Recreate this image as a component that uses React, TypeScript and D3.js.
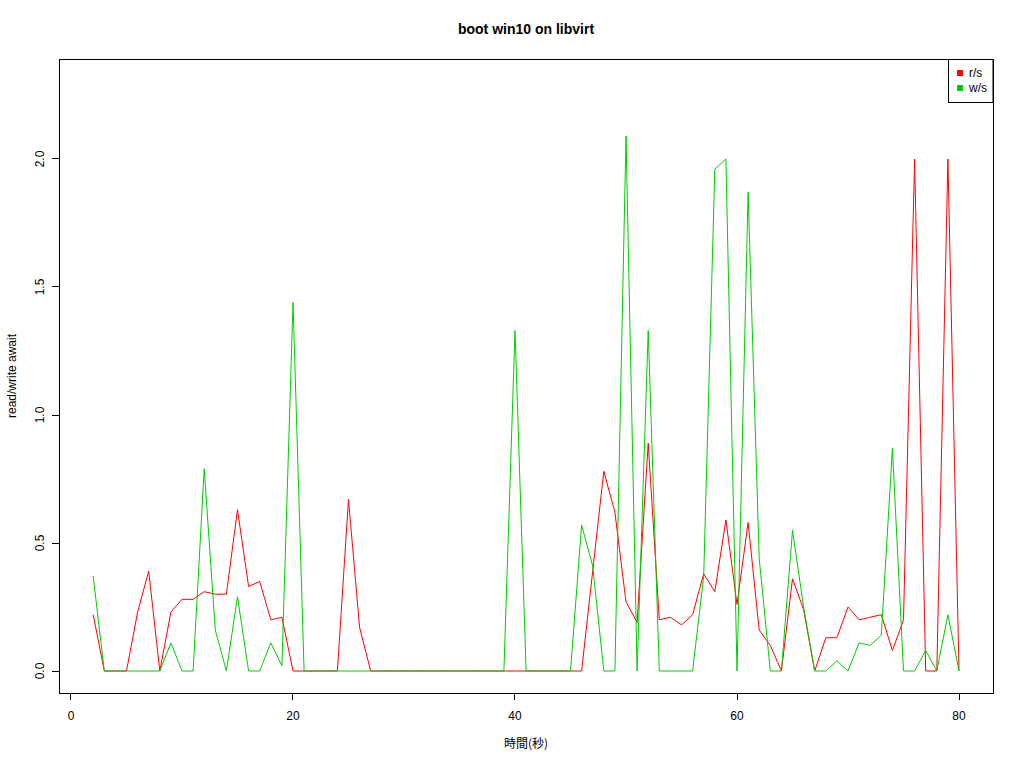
import React from 'react';
import * as d3 from 'd3';

// seconds since boot
const seconds = [
  2, 3, 4, 5, 6, 7, 8, 9, 10, 11, 12, 13, 14, 15, 16, 17, 18, 19, 20, 21,
  22, 23, 24, 25, 26, 27, 28, 29, 30, 31, 32, 33, 34, 35, 36, 37, 38, 39, 40, 41,
  42, 43, 44, 45, 46, 47, 48, 49, 50, 51, 52, 53, 54, 55, 56, 57, 58, 59, 60, 61,
  62, 63, 64, 65, 66, 67, 68, 69, 70, 71, 72, 73, 74, 75, 76, 77, 78, 79, 80,
];

// r/s await
const readAwait = [
  0.22, 0, 0, 0, 0.23, 0.39, 0, 0.23, 0.28, 0.28, 0.31, 0.3, 0.3, 0.63, 0.33, 0.35, 0.2, 0.21, 0, 0,
  0, 0, 0, 0.67, 0.17, 0, 0, 0, 0, 0, 0, 0, 0, 0, 0, 0, 0, 0, 0, 0,
  0, 0, 0, 0, 0, 0.39, 0.78, 0.62, 0.27, 0.19, 0.89, 0.2, 0.21, 0.18, 0.22, 0.38, 0.31, 0.59, 0.26, 0.58,
  0.16, 0.1, 0, 0.36, 0.24, 0, 0.13, 0.13, 0.25, 0.2, 0.21, 0.22, 0.08, 0.2, 2.0, 0, 0, 2.0, 0,
];

// w/s await
const writeAwait = [
  0.37, 0, 0, 0, 0, 0, 0, 0.11, 0, 0, 0.79, 0.16, 0, 0.29, 0, 0, 0.11, 0.02, 1.44, 0,
  0, 0, 0, 0, 0, 0, 0, 0, 0, 0, 0, 0, 0, 0, 0, 0, 0, 0, 1.33, 0,
  0, 0, 0, 0, 0.57, 0.41, 0, 0, 2.09, 0, 1.33, 0, 0, 0, 0, 0.37, 1.96, 2.0, 0, 1.87,
  0.44, 0, 0, 0.55, 0.25, 0, 0, 0.04, 0, 0.11, 0.1, 0.14, 0.87, 0, 0, 0.08, 0, 0.22, 0,
];

const xTicks = [0, 20, 40, 60, 80];
const yTicks = [0, 0.5, 1.0, 1.5, 2.0];

const series = [
  { name: 'r/s', values: readAwait, color: '#FF0000' },
  { name: 'w/s', values: writeAwait, color: '#00CD00' },
];

const W = 1024;
const H = 768;
const box = { left: 59, right: 993, top: 59, bottom: 693 };
const font = '"Liberation Sans", Arial, Helvetica, sans-serif';

export default function App() {
  // R-style extended ranges
  const x = d3.scaleLinear().domain([-1.081, 83.063]).range([box.left, box.right]);
  const y = d3.scaleLinear().domain([-0.0859, 2.3906]).range([box.bottom, box.top]);

  const line = (vals: number[]) =>
    d3
      .line<number>()
      .x((_, i) => x(seconds[i]))
      .y((d) => y(d))(vals) || '';

  return (
    <svg
      width={W}
      height={H}
      style={{ position: 'absolute', left: 0, top: 0, background: '#fff' }}
      fontFamily={font}
    >
      <rect x={0} y={0} width={W} height={H} fill="#fff" />

      {series.map((s) => (
        <path key={s.name} d={line(s.values)} fill="none" stroke={s.color} strokeWidth={1} />
      ))}

      {/* plot box */}
      <rect
        x={box.left}
        y={box.top}
        width={box.right - box.left}
        height={box.bottom - box.top}
        fill="none"
        stroke="#000"
        strokeWidth={1}
        shapeRendering="crispEdges"
      />

      {/* x axis */}
      {xTicks.map((t) => (
        <g key={'x' + t}>
          <line x1={x(t)} x2={x(t)} y1={box.bottom} y2={box.bottom + 7} stroke="#000" shapeRendering="crispEdges" />
          <text x={x(t)} y={720} textAnchor="middle" fontSize={12}>
            {t}
          </text>
        </g>
      ))}

      {/* y axis */}
      {yTicks.map((t) => (
        <g key={'y' + t}>
          <line x1={box.left - 7} x2={box.left} y1={y(t)} y2={y(t)} stroke="#000" shapeRendering="crispEdges" />
          <text
            transform={`translate(44,${y(t)}) rotate(-90)`}
            textAnchor="middle"
            fontSize={12}
          >
            {t.toFixed(1)}
          </text>
        </g>
      ))}

      {/* titles */}
      <text x={(box.left + box.right) / 2} y={34} textAnchor="middle" fontSize={14} fontWeight="bold">
        boot win10 on libvirt
      </text>
      <text
        x={(box.left + box.right) / 2}
        y={748}
        textAnchor="middle"
        fontSize={12}
        fontFamily={'"Noto Sans CJK JP", "Noto Sans CJK TC", ' + font}
      >
        時間(秒)
      </text>
      <text
        transform={`translate(16,${(box.top + box.bottom) / 2}) rotate(-90)`}
        textAnchor="middle"
        fontSize={12}
      >
        read/write await
      </text>

      {/* legend */}
      <rect x={948.5} y={59.5} width={44.5} height={43} fill="#fff" stroke="#000" strokeWidth={1} />
      {series.map((s, i) => (
        <g key={'lg' + s.name} transform={`translate(0,${73 + i * 15})`}>
          <rect x={957} y={-3} width={6} height={6} fill={s.color} />
          <text x={969} y={4} fontSize={12}>
            {s.name}
          </text>
        </g>
      ))}
    </svg>
  );
}
